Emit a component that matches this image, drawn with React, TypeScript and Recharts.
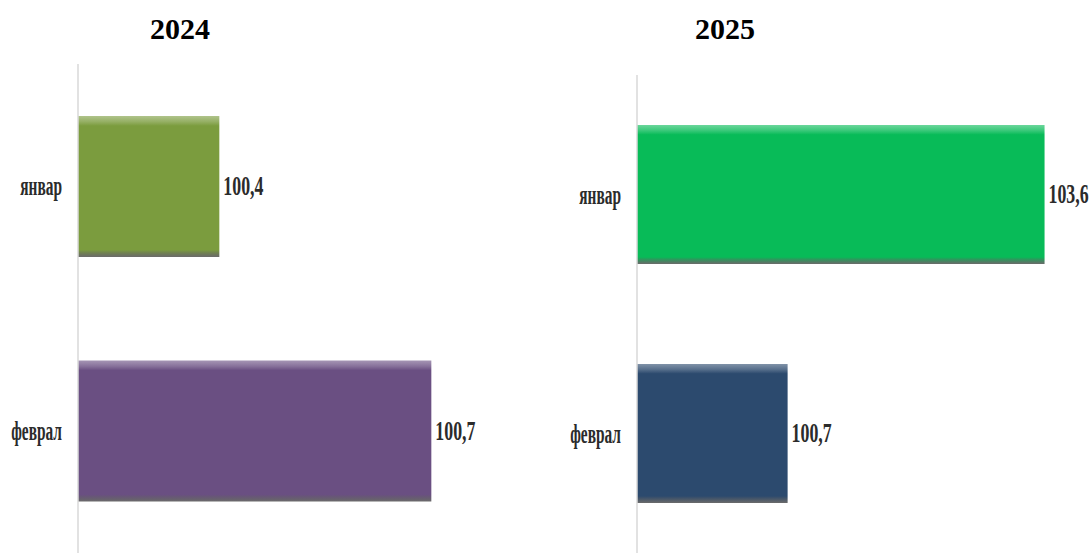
import { BarChart, Bar, XAxis, YAxis, LabelList, Cell } from "recharts";

const months = ["январ", "феврал"];
const values2024 = [100.4, 100.7];
const values2025 = [103.6, 100.7];
const colors2024 = ["#7b9c3e", "#6a4f82"];
const colors2025 = ["#08bb58", "#2c4a6e"];

const serif = "'Liberation Serif', 'Times New Roman', serif";

const fmt = (v: number) => v.toFixed(1).replace(".", ",");

function MonthTick(props: any) {
  const { x, y, payload } = props;
  return (
    <text
      transform={`translate(${x - 8},${y}) scale(0.57,1)`}
      textAnchor="end"
      dominantBaseline="central"
      fontFamily={serif}
      fontWeight="bold"
      fontSize={27}
      fill="#2b2b2b"
    >
      {payload.value}
    </text>
  );
}

function ValueLabel(props: any) {
  const { x, y, width, height, value } = props;
  return (
    <text
      transform={`translate(${x + width + 4},${y + height / 2}) scale(0.66,1)`}
      textAnchor="start"
      dominantBaseline="central"
      fontFamily={serif}
      fontWeight="bold"
      fontSize={27}
      fill="#2b2b2b"
    >
      {fmt(value)}
    </text>
  );
}

function Bevel({ id, color }: { id: string; color: string }) {
  return (
    <linearGradient id={id} x1="0" y1="0" x2="0" y2="1">
      <stop offset="0%" stopColor={color} stopOpacity={0.6} />
      <stop offset="4%" stopColor={color} stopOpacity={0.8} />
      <stop offset="7%" stopColor={color} />
      <stop offset="95%" stopColor={color} />
      <stop offset="100%" stopColor="#3a3a3a" stopOpacity={0.75} />
    </linearGradient>
  );
}

function Panel({
  year, values, colors, domain, left, width, top, barSize, axisW, right,
}: {
  year: string; values: number[]; colors: string[]; domain: [number, number];
  left: number; width: number; top: number; barSize: number; axisW: number; right: number;
}) {
  const data = months.map((m, i) => ({ name: m, value: values[i] }));
  return (
    <div style={{ position: "absolute", left, top: 0, width, height: 553 }}>
      <BarChart
        width={width}
        height={553}
        data={data}
        layout="vertical"
        margin={{ top, right, bottom: 0, left: 0 }}
        barSize={barSize}
      >
        <defs>
          {colors.map((c, i) => (
            <Bevel key={i} id={`g${year}-${i}`} color={c} />
          ))}
        </defs>
        <XAxis type="number" domain={domain} hide allowDataOverflow />
        <YAxis
          type="category"
          dataKey="name"
          width={axisW}
          axisLine={{ stroke: "#d9d9d9", strokeWidth: 1.5 }}
          tickLine={false}
          tick={<MonthTick />}
        />
        <Bar dataKey="value" isAnimationActive={false}>
          {data.map((_, i) => (
            <Cell key={i} fill={`url(#g${year}-${i})`} />
          ))}
          <LabelList dataKey="value" content={<ValueLabel />} />
        </Bar>
      </BarChart>
    </div>
  );
}

export default function App() {
  const titleStyle = {
    position: "absolute" as const, top: 12, width: 100, textAlign: "center" as const,
    fontFamily: serif, fontWeight: "bold", fontSize: 30,
  };
  return (
    <div style={{ position: "absolute", left: 0, top: 0, width: 1089, height: 553, background: "#fff" }}>
      <div style={{ ...titleStyle, left: 130 }}>2024</div>
      <div style={{ ...titleStyle, left: 675 }}>2025</div>
      <Panel year="2024" values={values2024} colors={colors2024} domain={[100.2, 100.8]}
        left={0} width={545} top={64} barSize={141} axisW={78} right={43} />
      <Panel year="2025" values={values2025} colors={colors2025} domain={[99, 104]}
        left={545} width={544} top={75} barSize={139} axisW={92} right={9} />
    </div>
  );
}
